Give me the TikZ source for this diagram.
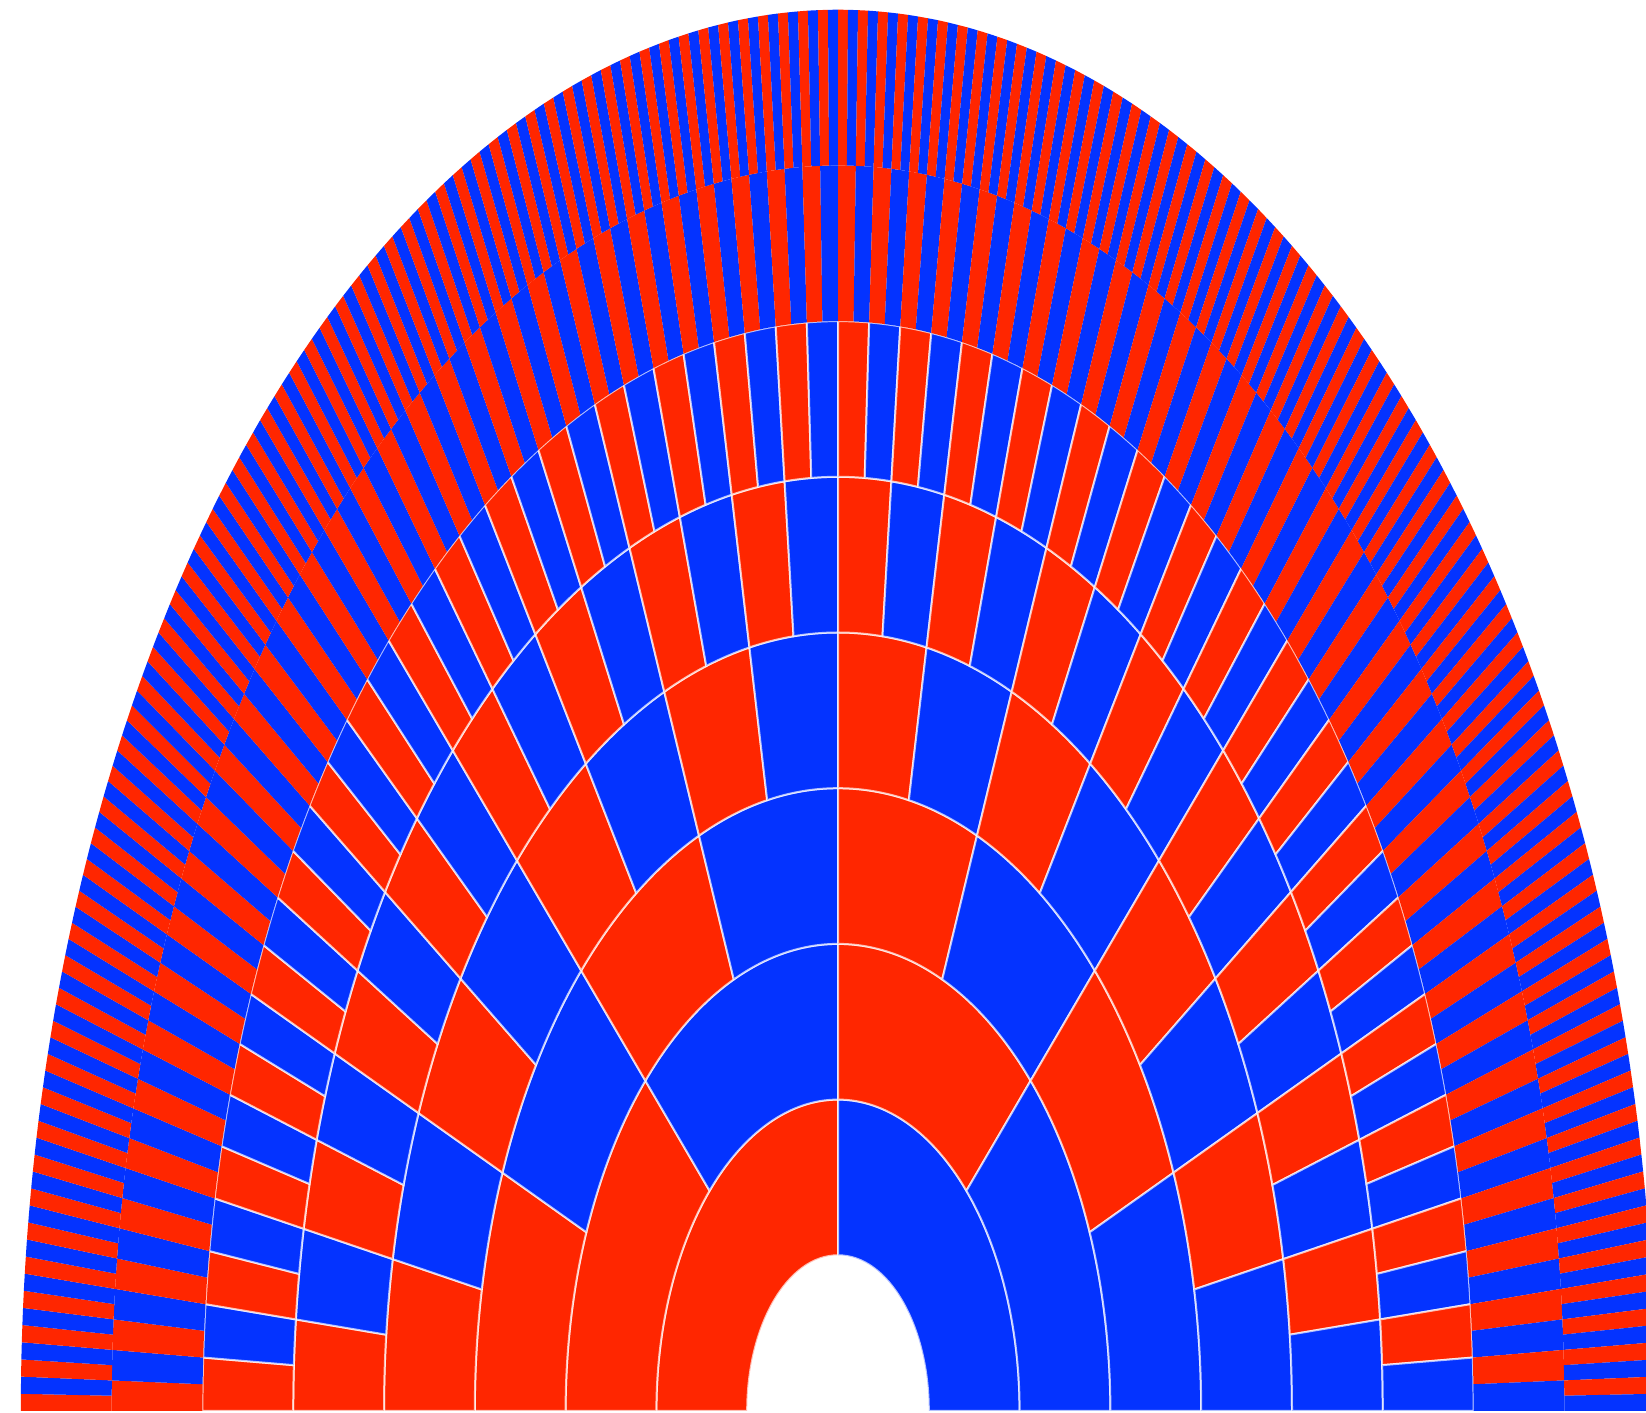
\documentclass[tikz,border=0pt]{standalone}
\usepackage{tikz,xcolor}
\definecolor{fred}{HTML}{FF2600}
\definecolor{fblue}{HTML}{0433FF}
\tikzset{
  wedge/.style={draw=white,draw opacity=0.7,line width=1pt,line join=round},
  thin wedge/.style={draw=none},
}

\begin{document}
\begin{tikzpicture}[x=0.5pt,y=0.5pt]
\useasboundingbox (0,0) rectangle (1646,1413);
\clip (0,0) rectangle (1646,1413);
% fan of 8 rings, ring j split into 2^j parts
\begin{scope}[shift={(838,2)},x={(45.4pt,0)},y={(0,77.85pt)}]
\foreach \ring in {1,...,8}{
  \pgfmathtruncatemacro{\nseg}{2^\ring}
  \pgfmathtruncatemacro{\last}{\nseg-1}
  \pgfmathtruncatemacro{\outer}{\ring+1}
  \pgfmathsetmacro{\da}{180/\nseg}
  \ifnum\ring<7 \tikzset{seg/.style={wedge}}\else\tikzset{seg/.style={thin wedge}}\fi
  \foreach \i in {0,...,\last}{
    \pgfmathsetmacro{\a}{180-\i*\da}
    \pgfmathsetmacro{\b}{180-(\i+1)*\da}
    \ifodd\i \def\col{fblue}\else\def\col{fred}\fi
    \path[seg,fill=\col] (\a:\ring) arc[start angle=\a,end angle=\b,radius=\ring]
      -- (\b:\outer) arc[start angle=\b,end angle=\a,radius=\outer] -- cycle;
  }
}
\end{scope}
\end{tikzpicture}
\end{document}
